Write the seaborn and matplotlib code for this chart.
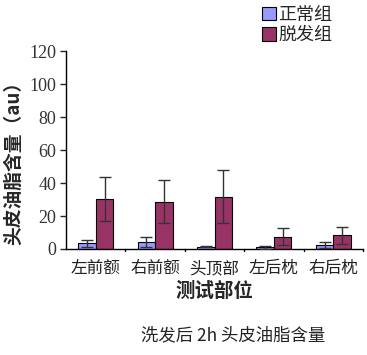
#!/usr/bin/env python3
# plot scalp sebum after washing

import matplotlib
matplotlib.use('Agg')
import matplotlib.pyplot as plt
from matplotlib.patches import Patch
import pandas as pd
import seaborn as sns

# Data =========================================================================

sites = ['左前额', '右前额', '头顶部', '左后枕', '右后枕']
groups = ['正常组', '脱发组']
normal_mean = [3.5, 4.5, 1.5, 1.0, 2.5]
normal_err = [2.0, 3.0, 0.5, 1.0, 2.0]
hairloss_mean = [30.5, 28.7, 31.7, 7.5, 8.3]
hairloss_err = [13.4, 13.0, 16.0, 5.0, 5.0]
yticks = [0, 20, 40, 60, 80, 100, 120]

colors = {'正常组': '#9999FF', '脱发组': '#993366'}
cjk = ['Noto Sans CJK SC', 'DejaVu Sans']


def main():
    sns.set_theme(style='white')
    plt.rcParams['font.family'] = cjk

    df = pd.DataFrame({
        'site': sites * 2,
        'group': [groups[0]] * 5 + [groups[1]] * 5,
        'value': normal_mean + hairloss_mean,
    })

    fig = plt.figure(figsize=(3.67, 3.55), dpi=100)
    ax = fig.add_axes([0.18, 0.2986, 0.809, 0.557])
    sns.barplot(
        data=df, x='site', y='value', hue='group', order=sites,
        hue_order=groups, palette=colors, width=0.59, errorbar=None,
        edgecolor='black', linewidth=0.8, legend=False, ax=ax, saturation=1
    )

    for cont, errs in zip(ax.containers, (normal_err, hairloss_err)):
        xs = [b.get_x() + b.get_width() / 2 for b in cont]
        hs = [b.get_height() for b in cont]
        ax.errorbar(xs, hs, yerr=errs, fmt='none', ecolor='#333333',
                    elinewidth=1.0, capsize=4, capthick=1.0, zorder=5)

    ax.set_xlim(-0.5, 4.5)
    ax.set_ylim(0, 120)
    ax.set_yticks(yticks)
    ax.set_yticklabels([str(v) for v in yticks], family='Liberation Serif',
                       fontsize=13, color='#333333')
    ax.set_xticks(range(len(sites)))
    ax.set_xticklabels(sites, fontsize=12, color='#222222')
    ax.tick_params(axis='x', length=0, pad=8)
    ax.tick_params(axis='y', left=True, length=4, width=1, direction='out',
                   pad=3)
    # boundary ticks on the category axis
    for b in [0.5, 1.5, 2.5, 3.5, 4.5]:
        ax.plot([b, b], [0, -1.5], color='black', lw=1, clip_on=False)

    for s in ('top', 'right'):
        ax.spines[s].set_visible(False)
    for s in ('left', 'bottom'):
        ax.spines[s].set_color('black')
        ax.spines[s].set_linewidth(1)

    ax.set_xlabel('测试部位', fontsize=14, fontweight='bold', labelpad=3)
    ax.set_ylabel('头皮油脂含量（au）', fontsize=13.5, fontweight='bold',
                  labelpad=1)
    ax.yaxis.set_label_coords(-0.145, 0.46)

    handles = [Patch(facecolor=colors[g], edgecolor='black', linewidth=0.8)
               for g in groups]
    fig.legend(handles, groups, loc='upper left',
               bbox_to_anchor=(0.68, 1.02), frameon=False, fontsize=13,
               handlelength=0.75, handleheight=0.75, handletextpad=0.15,
               labelspacing=0.15, borderpad=0.2)

    fig.text(0.635, 0.03, '洗发后 2h 头皮油脂含量', ha='center', va='bottom',
             fontsize=12.5, color='#222222')

    fig.savefig('out.png', dpi=100)


if __name__ == '__main__':
    main()
